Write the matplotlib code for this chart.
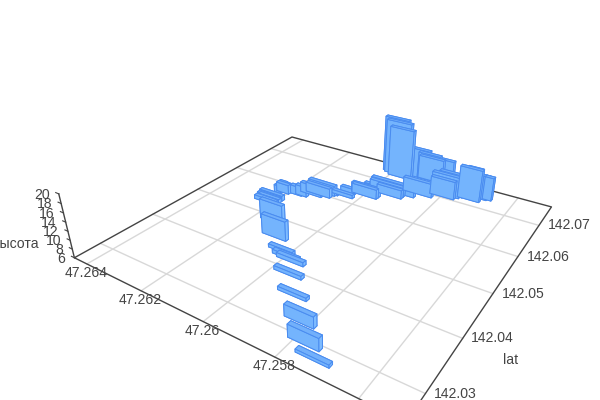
import numpy as np
import matplotlib
matplotlib.use('Agg')
import matplotlib.pyplot as plt
from mpl_toolkits.mplot3d import proj3d

plt.rcParams['font.family'] = ['Liberation Sans', 'DejaVu Sans']

# values (lat offset from 142, in 1e-4; second axis offsets from 47, in 1e-5)
lat_front = [275,290,318,355,388,414,427,418,452,485,539,536,565,572,577,576,578,596,610,615,628,641,663,665,658,673,689,728,735,740,745,746,746,766,703,711,717,717,719,730,733,
             528,545,570,590,606,635,672]
lon_low = [25690,25733,25782,25850,25908,25936,25988,25959,26043,26100,26190,26185,26218,26209,26184,26155,26139,26076,26064,26017,26024,25954,25992,25893,25893,25865,25820,25925,25940,25955,25880,25845,25832,25812,25759,25749,25742,25689,25692,25675,25662,
           26185,26185,26195,26100,26070,25955,25895]
lon_high = [25774,25814,25862,25933,25991,26020,26065,26039,26123,26178,26270,26262,26242,26236,26221,26195,26178,26162,26097,26091,26073,26048,26027,26008,25976,25908,25915,26006,26026,26036,25961,25918,25915,25897,25836,25839,25821,25757,25737,25697,25689,
            26265,26270,26240,26175,26165,26040,26010]
height = [6.6,8.7,8.5,6.7,6.8,6.9,6.7,6.8,10.5,10.6,6.9,6.9,7.8,8.4,7.8,8.1,8.4,8.3,7.0,6.8,7.3,8.1,7.1,8.3,8.1,7.6,9.4,18.5,19.6,20.0,13.3,12.6,11.8,10.8,10.4,11.1,11.4,13.8,13.8,11.8,11.6,
          6.9,7.2,8.2,8.4,8.5,8.3,8.5]
lat_thickness = 0.0007

lat_ticks = [142.03, 142.04, 142.05, 142.06, 142.07]
lat_tick_labels = ['142.03', '142.04', '142.05', '142.06', '142.07']
lon_grid = [47.256, 47.258, 47.26, 47.262, 47.264]
lon_ticks = [47.258, 47.26, 47.262, 47.264]
lon_tick_labels = ['47.258', '47.26', '47.262', '47.264']
z_ticks = [6, 8, 10, 12, 14, 16, 18, 20]

LAT_RANGE = (142.0256, 142.0768)
LON_RANGE = (47.2550, 47.2645)
Z_RANGE = (6, 20)

ELEV, AZIM, LOGF, LOGA, LOGC = 29.0913, -146.5161, -1.4720, 0.0315, -1.6047
CX, CY, S = 325.6685, 200.6041, 2630.3
W, H = 600, 400

fig = plt.figure(figsize=(6, 4), dpi=100)
ax = fig.add_subplot(projection='3d')
ax.set_proj_type('persp', focal_length=np.exp(LOGF))
ax.view_init(ELEV, AZIM)
ax.set_box_aspect((np.exp(LOGA), 1, np.exp(LOGC)))
v = ax.viewLim.frozen()
ax.set_position([(CX + S * v.x0) / W, 1 - (CY - S * v.y0) / H,
                 S * (v.x1 - v.x0) / W, S * (v.y1 - v.y0) / H])
ax.set_axis_off()
def limits():
    ax.set_xlim(142.025, 142.077)
    ax.set_ylim(47.2552, 47.2645)
    ax.set_zlim(*Z_RANGE)
limits()

GRID = '#d8d8d8'
DARK = '#444444'
z0 = Z_RANGE[0]
for t in lat_ticks:
    ax.plot([t, t], LON_RANGE, [z0, z0], color=GRID, lw=1, zorder=1, clip_on=False)
for t in lon_grid:
    ax.plot(LAT_RANGE, [t, t], [z0, z0], color=GRID, lw=1, zorder=1, clip_on=False)
a0, a1 = LAT_RANGE
b0, b1 = LON_RANGE
ax.plot([a0, a1, a1, a0, a0], [b0, b0, b1, b1, b0], [z0] * 5, color=DARK, lw=1, zorder=2, clip_on=False)
ax.plot([a0, a0], [b1, b1], Z_RANGE, color=DARK, lw=1, zorder=2, clip_on=False)
for t in z_ticks:
    ax.plot([a0, a0], [b1, b1 + 0.00012], [t, t], color=DARK, lw=0.8, zorder=2, clip_on=False)

FACE = '#7fbcff'
SIDE = '#74b4fd'
TOP = '#72b0fb'
for lat, lo, hi, z in zip(lat_front, lon_low, lon_high, height):
    ax.bar3d(142 + lat * 1e-4, 47 + lo * 1e-5, z0, lat_thickness, (hi - lo) * 1e-5, z - z0,
             color=[TOP, TOP, FACE, FACE, SIDE, SIDE], edgecolor='#4a8cf0', linewidth=0.7, shade=False)
limits()

M = ax.get_proj()
def label(x, y, z, text, dx, dy, ha='center'):
    a, b, _ = proj3d.proj_transform(x, y, z, M)
    ax.annotate(text, (a, b), xytext=(dx, dy), textcoords='offset pixels', ha=ha, va='center',
                color='#444444', fontsize=10.08, annotation_clip=False)
for t, s in zip(lat_ticks, lat_tick_labels):
    label(t, b0, z0, s, 30, 0)
for t, s in zip(lon_ticks, lon_tick_labels):
    label(a0, t, z0, s, -1, -9)
for t in z_ticks:
    label(a0, b1, t, str(t), -9, -1, ha='right')

fig.text(39 / W, 1 - 244 / H, 'высота', ha='right', va='center', color='#444444', fontsize=10.08)
fig.text(511 / W, 1 - 360 / H, 'lat', ha='center', va='center', color='#444444', fontsize=10.08)
fig.savefig('out.png', dpi=100)
